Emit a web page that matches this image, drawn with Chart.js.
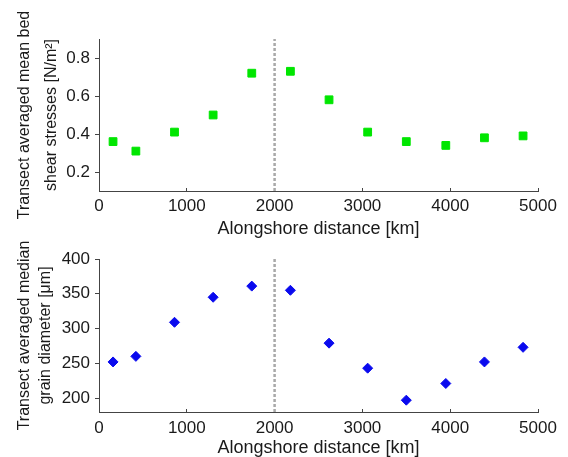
<!DOCTYPE html>
<html>
<head>
<meta charset="utf-8">
<script src="https://cdn.jsdelivr.net/npm/chart.js@4"></script>
<style>
  body { margin: 0; background: #fff; }
  #wrap { position: relative; width: 568px; height: 457px; }
  #stressChart { position: absolute; left: 0; top: 0; }
  #grainChart { position: absolute; left: 0; top: 238px; }
</style>
</head>
<body>
<div id="wrap">
  <canvas id="stressChart" width="568" height="238"></canvas>
  <canvas id="grainChart" width="568" height="219"></canvas>
</div>
<script>
// alongshore positions of the transects [km]
var distance = [160, 420, 860, 1300, 1740, 2180, 2620, 3060, 3500, 3950, 4390, 4830];
// transect averaged mean bed shear stress [N/m2]
var stress = [0.36, 0.31, 0.41, 0.50, 0.72, 0.73, 0.58, 0.41, 0.36, 0.34, 0.38, 0.39];
// transect averaged median grain diameter [um]
var grain = [252, 260, 309, 345, 361, 355, 279, 243, 197, 221, 252, 273];

var xTicks = [0, 1000, 2000, 3000, 4000, 5000];
var stressTicks = [0.2, 0.4, 0.6, 0.8];
var grainTicks = [200, 250, 300, 350, 400];

var dividerX = 2000;
var xRange = [0, 5000];
var stressRange = [0.1, 0.9];
var grainRange = [180, 400];

var fontFamily = '"Liberation Sans", Arial, sans-serif';
var axisColor = '#444';
var textColor = '#1a1a1a';

function points(xs, ys) {
    return xs.map(function (x, i) { return { x: x, y: ys[i] }; });
}

function fixedTicks(list) {
    return function (scale) {
        scale.ticks = list.map(function (v) { return { value: v }; });
    };
}

function makeChart(el, opts) {
    return new Chart(el, {
        type: 'scatter',
        data: {
            datasets: [{
                // dotted reference line
                type: 'line',
                data: [{ x: dividerX, y: opts.range[0] }, { x: dividerX, y: opts.range[1] }],
                borderColor: '#a9a9a9',
                borderWidth: 2.5,
                borderDash: [3, 2],
                pointRadius: 0
            }, {
                data: points(distance, opts.values),
                pointStyle: opts.marker,
                pointRadius: opts.radius,
                backgroundColor: opts.color,
                borderColor: opts.color,
                borderWidth: 1
            }]
        },
        options: {
            responsive: false,
            animation: false,
            layout: { padding: { top: opts.padTop, right: 30, left: 0, bottom: 0 } },
            plugins: { legend: { display: false }, tooltip: { enabled: false } },
            scales: {
                x: {
                    type: 'linear',
                    min: xRange[0],
                    max: xRange[1],
                    afterBuildTicks: fixedTicks(xTicks),
                    afterFit: function (scale) { scale.height = opts.xHeight; },
                    border: { color: axisColor, width: 1 },
                    grid: { drawOnChartArea: false, tickLength: -3, color: axisColor },
                    ticks: {
                        padding: opts.xPad,
                        color: textColor,
                        font: { family: fontFamily, size: 17 },
                        callback: function (v) { return String(v); }
                    },
                    title: {
                        display: true,
                        text: 'Alongshore distance [km]',
                        color: textColor,
                        padding: { top: 0, bottom: 0 },
                        font: { family: fontFamily, size: 18, lineHeight: 1.0 }
                    }
                },
                y: {
                    min: opts.range[0],
                    max: opts.range[1],
                    afterBuildTicks: fixedTicks(opts.ticks),
                    afterFit: function (scale) { scale.width = 99; },
                    border: { color: axisColor, width: 1 },
                    grid: { drawOnChartArea: false, tickLength: 4, color: axisColor },
                    ticks: {
                        padding: 5,
                        color: textColor,
                        font: { family: fontFamily, size: 17 },
                        callback: function (v) { return String(v); }
                    },
                    title: {
                        display: true,
                        text: opts.title,
                        color: textColor,
                        padding: { top: opts.titlePad, bottom: 0 },
                        font: { family: fontFamily, size: 16, lineHeight: opts.titleLine }
                    }
                }
            }
        }
    });
}

makeChart(document.getElementById('stressChart'), {
    values: stress,
    range: stressRange,
    ticks: stressTicks,
    marker: 'rect',
    radius: 5.5,
    color: '#00e600',
    padTop: 39,
    xHeight: 47,
    xPad: 8,
    title: ['Transect averaged mean bed', 'shear stresses [N/m\u00b2]'],
    titleLine: 1.7,
    titlePad: 11
});

makeChart(document.getElementById('grainChart'), {
    values: grain,
    range: grainRange,
    ticks: grainTicks,
    marker: 'rectRot',
    radius: 5,
    color: '#0a0aee',
    padTop: 21,
    xHeight: 45,
    xPad: 9,
    title: ['Transect averaged median', 'grain diameter [\u03bcm]'],
    titleLine: 1.3,
    titlePad: 14
});
</script>
</body>
</html>
